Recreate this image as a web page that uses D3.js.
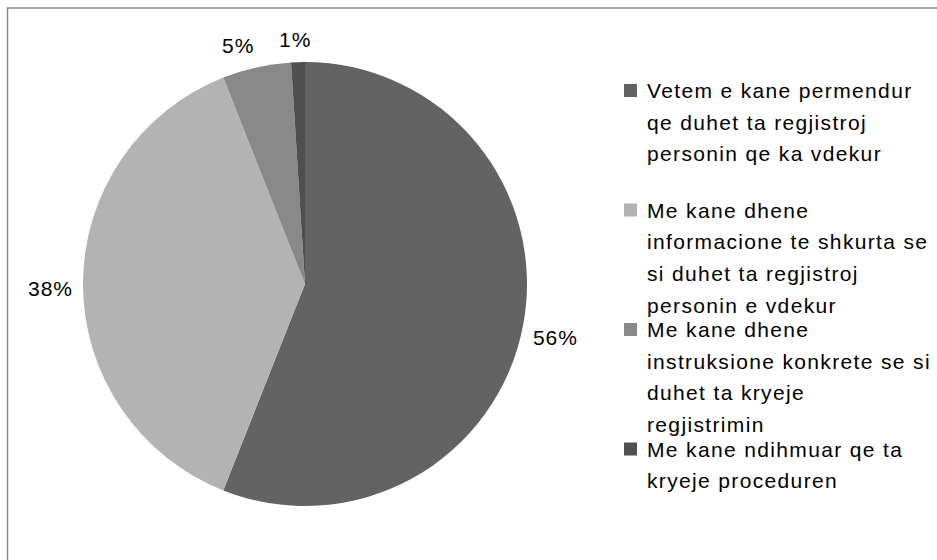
<!DOCTYPE html>
<html>
<head>
<meta charset="utf-8">
<script src="https://cdn.jsdelivr.net/npm/d3@7"></script>
<style>
  body { margin: 0; background: #fff; }
  svg text { font-family: "Liberation Sans", Arial, sans-serif; fill: #000; }
</style>
</head>
<body>
<div id="chart"></div>
<script>
// data
var categories = [
  "Vetem e kane permendur qe duhet ta regjistroj personin qe ka vdekur",
  "Me kane dhene informacione te shkurta se si duhet ta regjistroj personin e vdekur",
  "Me kane dhene instruksione konkrete se si duhet ta kryeje regjistrimin",
  "Me kane ndihmuar qe ta kryeje proceduren"
];
var legendLines = [
  ["Vetem e kane permendur", "qe duhet ta regjistroj", "personin qe ka vdekur"],
  ["Me kane dhene", "informacione te shkurta se", "si duhet ta regjistroj", "personin e vdekur"],
  ["Me kane dhene", "instruksione konkrete se si", "duhet ta kryeje", "regjistrimin"],
  ["Me kane ndihmuar qe ta", "kryeje proceduren"]
];
var values = [56, 38, 5, 1];
var colors = ["#636363", "#b3b3b3", "#898989", "#4f4f4f"];

var width = 937, height = 560;
var cx = 305, cy = 284, radius = 222;

var svg = d3.select("#chart").append("svg")
    .attr("width", width)
    .attr("height", height);

// chart border (runs off the right and bottom edges)
svg.append("rect")
    .attr("x", 7.5).attr("y", 8)
    .attr("width", 940).attr("height", 560)
    .attr("fill", "none")
    .attr("stroke", "#8c8c8c")
    .attr("stroke-width", 1.5);

var data = values.map(function (v, i) {
  return { name: categories[i], value: v, color: colors[i], lines: legendLines[i] };
});

var pie = d3.pie().sort(null).value(function (d) { return d.value; });
var arc = d3.arc().innerRadius(0).outerRadius(radius);
var arcs = pie(data);

var g = svg.append("g").attr("transform", "translate(" + cx + "," + cy + ")");

g.selectAll("path.slice")
    .data(arcs)
    .enter().append("path")
    .attr("class", "slice")
    .attr("d", arc)
    .attr("fill", function (d) { return d.data.color; });

// percent labels just outside the rim, box hooked to the rim point
var labelPad = 10;
var clamp01 = function (v) { return Math.max(0, Math.min(1, v)); };
var labels = g.selectAll("text.pct")
    .data(arcs)
    .enter().append("text")
    .attr("class", "pct")
    .style("font-size", "21px")
    .style("letter-spacing", "1px")
    .text(function (d) { return d.data.value + "%"; });

labels.each(function (d) {
  var a = (d.startAngle + d.endAngle) / 2;
  var s = Math.sin(a), c = Math.cos(a);
  var px = (radius + labelPad) * s, py = -(radius + labelPad) * c;
  var box = this.getBBox();
  var left = px - box.width * clamp01(0.5 - s * 2.5);
  var top = py - box.height * clamp01(0.25 + c * 1.3);
  d3.select(this)
    .attr("x", left)
    .attr("y", top + box.height * 0.78);
});

// legend
var legend = svg.append("g").attr("class", "legend");
var entryStep = 119.5, lineStep = 31.7;
var entries = legend.selectAll("g.entry")
    .data(data)
    .enter().append("g")
    .attr("class", "entry")
    .attr("transform", function (d, i) { return "translate(624," + (91 + i * entryStep) + ")"; });

entries.append("rect")
    .attr("x", 0).attr("y", -7)
    .attr("width", 13).attr("height", 13)
    .attr("fill", function (d) { return d.color; });

entries.selectAll("text")
    .data(function (d) { return d.lines; })
    .enter().append("text")
    .attr("x", 23)
    .attr("y", function (d, j) { return j * lineStep + 7; })
    .style("font-size", "21px")
    .style("letter-spacing", "1.35px")
    .text(function (d) { return d; });
</script>
</body>
</html>
